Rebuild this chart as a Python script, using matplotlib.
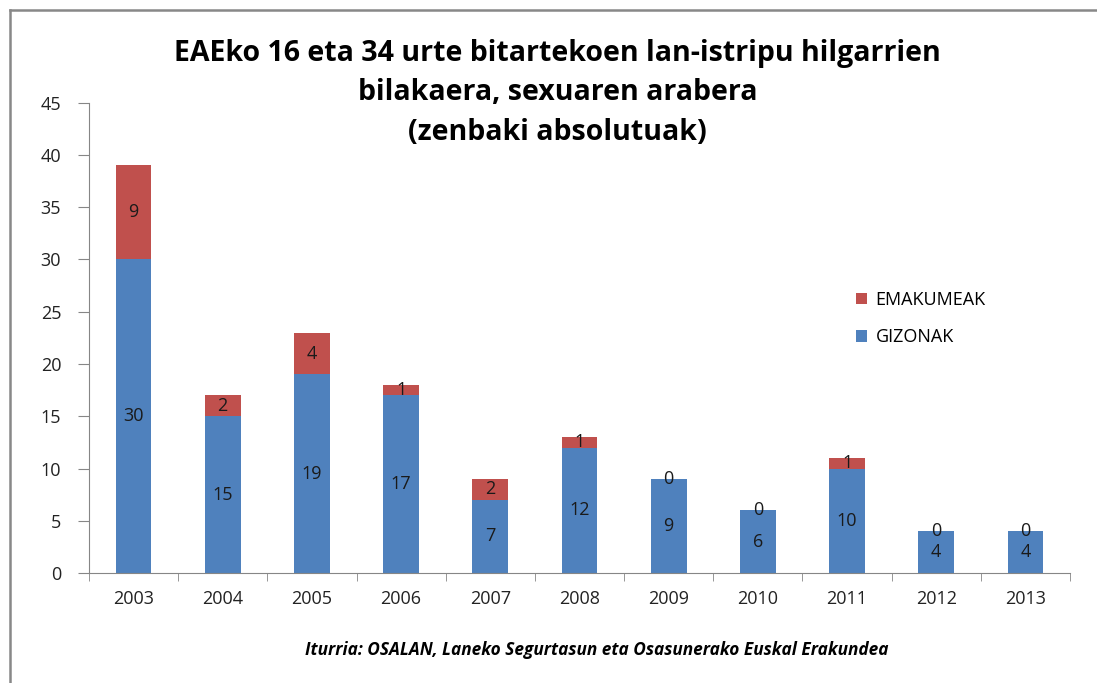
#!/usr/bin/env python3
import numpy as np
import matplotlib.pyplot as plt
from matplotlib.lines import Line2D

years = ['2003', '2004', '2005', '2006', '2007', '2008', '2009', '2010', '2011', '2012', '2013']
gizonak = [30, 15, 19, 17, 7, 12, 9, 6, 10, 4, 4]
emakumeak = [9, 2, 4, 1, 2, 1, 0, 0, 1, 0, 0]

title = 'EAEko 16 eta 34 urte bitartekoen lan-istripu hilgarrien\nbilakaera, sexuaren arabera\n(zenbaki absolutuak)'
source = 'Iturria: OSALAN, Laneko Segurtasun eta Osasunerako Euskal Erakundea'

BLUE = '#4F81BD'
RED = '#C0504D'
GRAY = '#868686'


def main():
    plt.rcParams['font.family'] = ['Open Sans', 'DejaVu Sans']
    fig = plt.figure(figsize=(10.97, 6.83), dpi=100)
    ax = fig.add_axes([0.0811, 0.161, 0.8943, 0.6886])

    x = np.arange(len(years))
    b1 = ax.bar(x, gizonak, width=0.4, color=BLUE, label='GIZONAK')
    b2 = ax.bar(x, emakumeak, width=0.4, bottom=gizonak, color=RED, label='EMAKUMEAK')
    ax.bar_label(b1, labels=[str(v) for v in gizonak], label_type='center', fontsize=13, color='#1a1a1a')
    ax.bar_label(b2, labels=[str(v) for v in emakumeak], label_type='center', fontsize=13, color='#1a1a1a')

    ax.set_xlim(-0.5, len(years) - 0.5)
    ax.set_ylim(0, 45)
    ax.set_yticks(range(0, 46, 5))
    ax.set_xticks(x)
    ax.set_xticklabels(years)
    ax.set_xticks(np.arange(-0.5, len(years), 1), minor=True)
    ax.tick_params(axis='x', which='major', length=0, pad=12, labelsize=13, colors='#222222')
    ax.tick_params(axis='x', which='minor', length=6, color=GRAY, direction='out')
    ax.tick_params(axis='y', length=8, color=GRAY, labelsize=13, labelcolor='#222222', pad=12)

    for side in ['top', 'right']:
        ax.spines[side].set_visible(False)
    for side in ['left', 'bottom']:
        ax.spines[side].set_color(GRAY)

    handles, labels = ax.get_legend_handles_labels()
    ax.legend(handles[::-1], labels[::-1], loc='upper left', bbox_to_anchor=(0.765, 0.635),
              frameon=False, fontsize=13, handlelength=0.6, handleheight=0.6,
              labelspacing=1.1, handletextpad=0.5)

    fig.text(0.508, 0.864, title, ha='center', va='center', fontsize=20.5,
             fontweight='bold', linespacing=1.47)
    fig.text(0.544, 0.048, source, ha='center', va='center', fontsize=12.4,
             fontweight='bold', style='italic')

    # frame lines of the original picture
    fig.add_artist(Line2D([10 / 1097, 10 / 1097], [0, 1 - 10 / 683], transform=fig.transFigure,
                          color='#888888', lw=1.8))
    fig.add_artist(Line2D([10 / 1097, 1], [1 - 10 / 683, 1 - 10 / 683], transform=fig.transFigure,
                          color='#888888', lw=1.8))

    fig.savefig('out.png', dpi=100)


if __name__ == '__main__':
    main()
